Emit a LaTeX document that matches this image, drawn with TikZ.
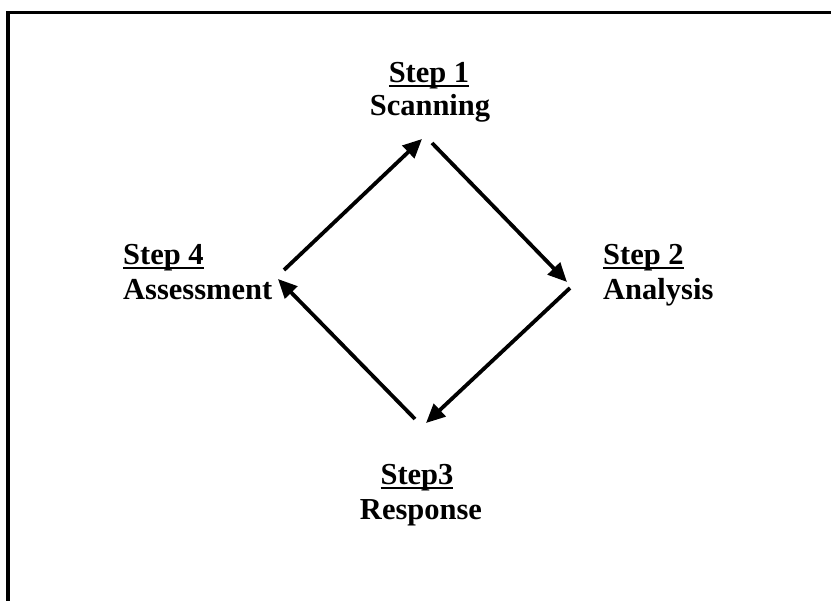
\documentclass[tikz,border=0pt]{standalone}
\usepackage{fontspec}
\setmainfont{Liberation Serif}
\usetikzlibrary{arrows.meta}
\newcommand\myul[1]{\setbox0\hbox{#1}\rlap{\rule[-4.5pt]{\wd0}{2.8pt}}\box0}
\tikzset{
  lbl/.style={inner sep=0pt, font=\fontsize{30.5}{34}\selectfont\bfseries},
  cyc/.style={line width=3.8pt, -{Triangle[length=19pt,width=17pt]}},
}
\begin{document}
\begin{tikzpicture}[x=1pt,y=-1pt]
\useasboundingbox (0,0) rectangle (831,601);
\draw[line width=3.8pt] (8,601) -- (8,12.5) -- (831,12.5);
% labels
\node[lbl, anchor=base] (s1a) at (429,83) {\myul{Step 1}};
\node[lbl, anchor=base] (s1b) at (430,116) {Scanning};
\node[lbl, anchor=base west] (s2a) at (603,265) {\myul{Step 2}};
\node[lbl, anchor=base west] (s2b) at (603,300) {Analysis};
\node[lbl, anchor=base] (s3a) at (417,485) {\myul{Step3}};
\node[lbl, anchor=base] (s3b) at (421,520) {Response};
\node[lbl, anchor=base west] (s4a) at (123,265) {\myul{Step 4}};
\node[lbl, anchor=base west] (s4b) at (123,300) {Assessment};
% arrow ends
\coordinate (a1s) at (284,270);
\coordinate (a1e) at (422,139);
\coordinate (a2s) at (432,143);
\coordinate (a2e) at (567,282);
\coordinate (a3s) at (570,288);
\coordinate (a3e) at (426,423);
\coordinate (a4s) at (415,419);
\coordinate (a4e) at (278,279);
\draw[cyc] (a1s) -- (a1e);
\draw[cyc] (a2s) -- (a2e);
\draw[cyc] (a3s) -- (a3e);
\draw[cyc] (a4s) -- (a4e);
\end{tikzpicture}
\end{document}
